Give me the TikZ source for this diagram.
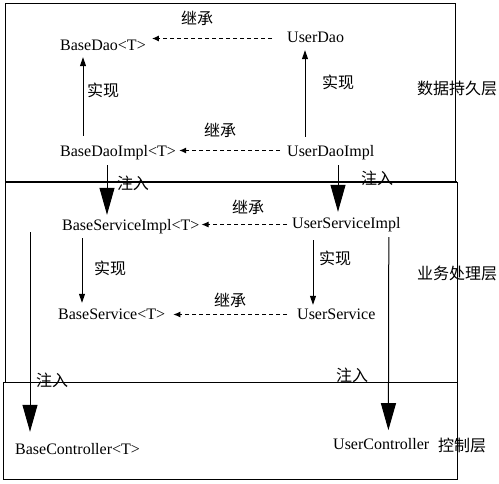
\documentclass[tikz,border=0pt]{standalone}
\usepackage{fontspec}
\setmainfont{Liberation Serif}
\newfontfamily\cjk{Noto Sans CJK SC}
\usetikzlibrary{positioning,arrows.meta,calc}
\tikzset{
  cls/.style={font=\fontsize{16}{19}\selectfont,inner sep=0pt,
    text height=11pt,text depth=0pt,anchor=base west},
  cntag/.style={font=\cjk\fontsize{16}{19}\selectfont,inner sep=0pt},
  layerbox/.style={draw,line width=1pt},
  implflow/.style={-{Triangle[length=9pt,width=6pt]},line width=1pt},
  inheritflow/.style={-{Latex[length=7pt,width=6pt]},line width=1pt,
    dash pattern=on 4pt off 3pt},
  injectflow/.style={-{Triangle[length=27pt,width=15pt]},line width=1pt}
}

\begin{document}
\begin{tikzpicture}[x=1pt,y=-1pt]
  \useasboundingbox (0,0) rectangle (499,483);
  \draw[layerbox] (5,3) rectangle (455,182);
  \draw[layerbox] (5,182) rectangle (457,382);
  \draw[layerbox] (3,382) rectangle (457,479);
  \draw[line width=2pt] (5,182) -- (457,182);

  \node[cls] (bdao) at (60,50) {BaseDao<T>};
  \node[cls] (udao) at (287,42) {UserDao};
  \node[cls] (bdimpl) at (60,156) {BaseDaoImpl<T>};
  \node[cls] (udimpl) at (287,156) {UserDaoImpl};
  \node[cls] (bsimpl) at (62,230) {BaseServiceImpl<T>};
  \node[cls] (usimpl) at (292,228) {UserServiceImpl};
  \node[cls] (bsvc) at (58,319) {BaseService<T>};
  \node[cls] (usvc) at (297,319) {UserService};
  \node[cls] (bctrl) at (15,454) {BaseController<T>};
  \node[cls] (uctrl) at (333,449) {UserController};

  \node[cntag] (dlayer) at (457,88) {数据持久层};
  \node[cntag] (slayer) at (457,273) {业务处理层};
  \node[cntag,anchor=west] (clayer) at (438,445) {控制层};

  \draw[inheritflow] ($(udao.west)+(-15,2)$) -- ($(bdao.east |- udao.west)+(6,2)$);
  \draw[inheritflow] ($(udimpl.west)+(-7,0)$) -- ($(bdimpl.east |- udimpl.west)+(3,0)$);
  \draw[inheritflow] ($(usimpl.west |- bsimpl.east)+(-5,0)$) -- ($(bsimpl.east)+(2,0)$);
  \draw[inheritflow] ($(usvc.west)+(-10,1)$) -- ($(bsvc.east |- usvc.west)+(8,1)$);
  \node[cntag] (inh1) at (197,18) {继承};
  \node[cntag] (inh2) at (220,130) {继承};
  \node[cntag] (inh3) at (248,207) {继承};
  \node[cntag] (inh4) at (230,300) {继承};

  \draw[implflow] ($(bdimpl.north west)+(23,-9)$) -- ($(bdao.south west)+(23,7)$);
  \draw[implflow] ($(udimpl.north west)+(18,-8)$) -- ($(udao.south west)+(18,8)$);
  \draw[implflow] ($(bsimpl.south west)+(20,8)$) -- ($(bsvc.north west)+(24,-5)$);
  \draw[implflow] ($(usimpl.south west)+(21,12)$) -- ($(usvc.north west)+(16,-3)$);
  \node[cntag] (imp1) at (103,90) {实现};
  \node[cntag] (imp2) at (338,82) {实现};
  \node[cntag] (imp3) at (110,268) {实现};
  \node[cntag] (imp4) at (335,258) {实现};

  \draw[injectflow] ($(bdimpl.south west)+(47,9)$) -- ($(bsimpl.north west)+(45,-4)$);
  \draw[injectflow] ($(udimpl.south west)+(51,9)$) -- ($(usimpl.north west)+(46,-5)$);
  \draw[injectflow] ($(bsimpl.south west)+(-32,2)$) -- ($(bctrl.north west)+(15,-11)$);
  \draw[injectflow] ($(usimpl.south east)+(-12,9)$) -- ($(uctrl.north west |- usimpl.south east)+(55.4,202)$);
  \node[cntag] (inj1) at (133,183) {注入};
  \node[cntag] (inj2) at (377,178) {注入};
  \node[cntag] (inj3) at (52,380) {注入};
  \node[cntag] (inj4) at (352,375) {注入};
\end{tikzpicture}
\end{document}
